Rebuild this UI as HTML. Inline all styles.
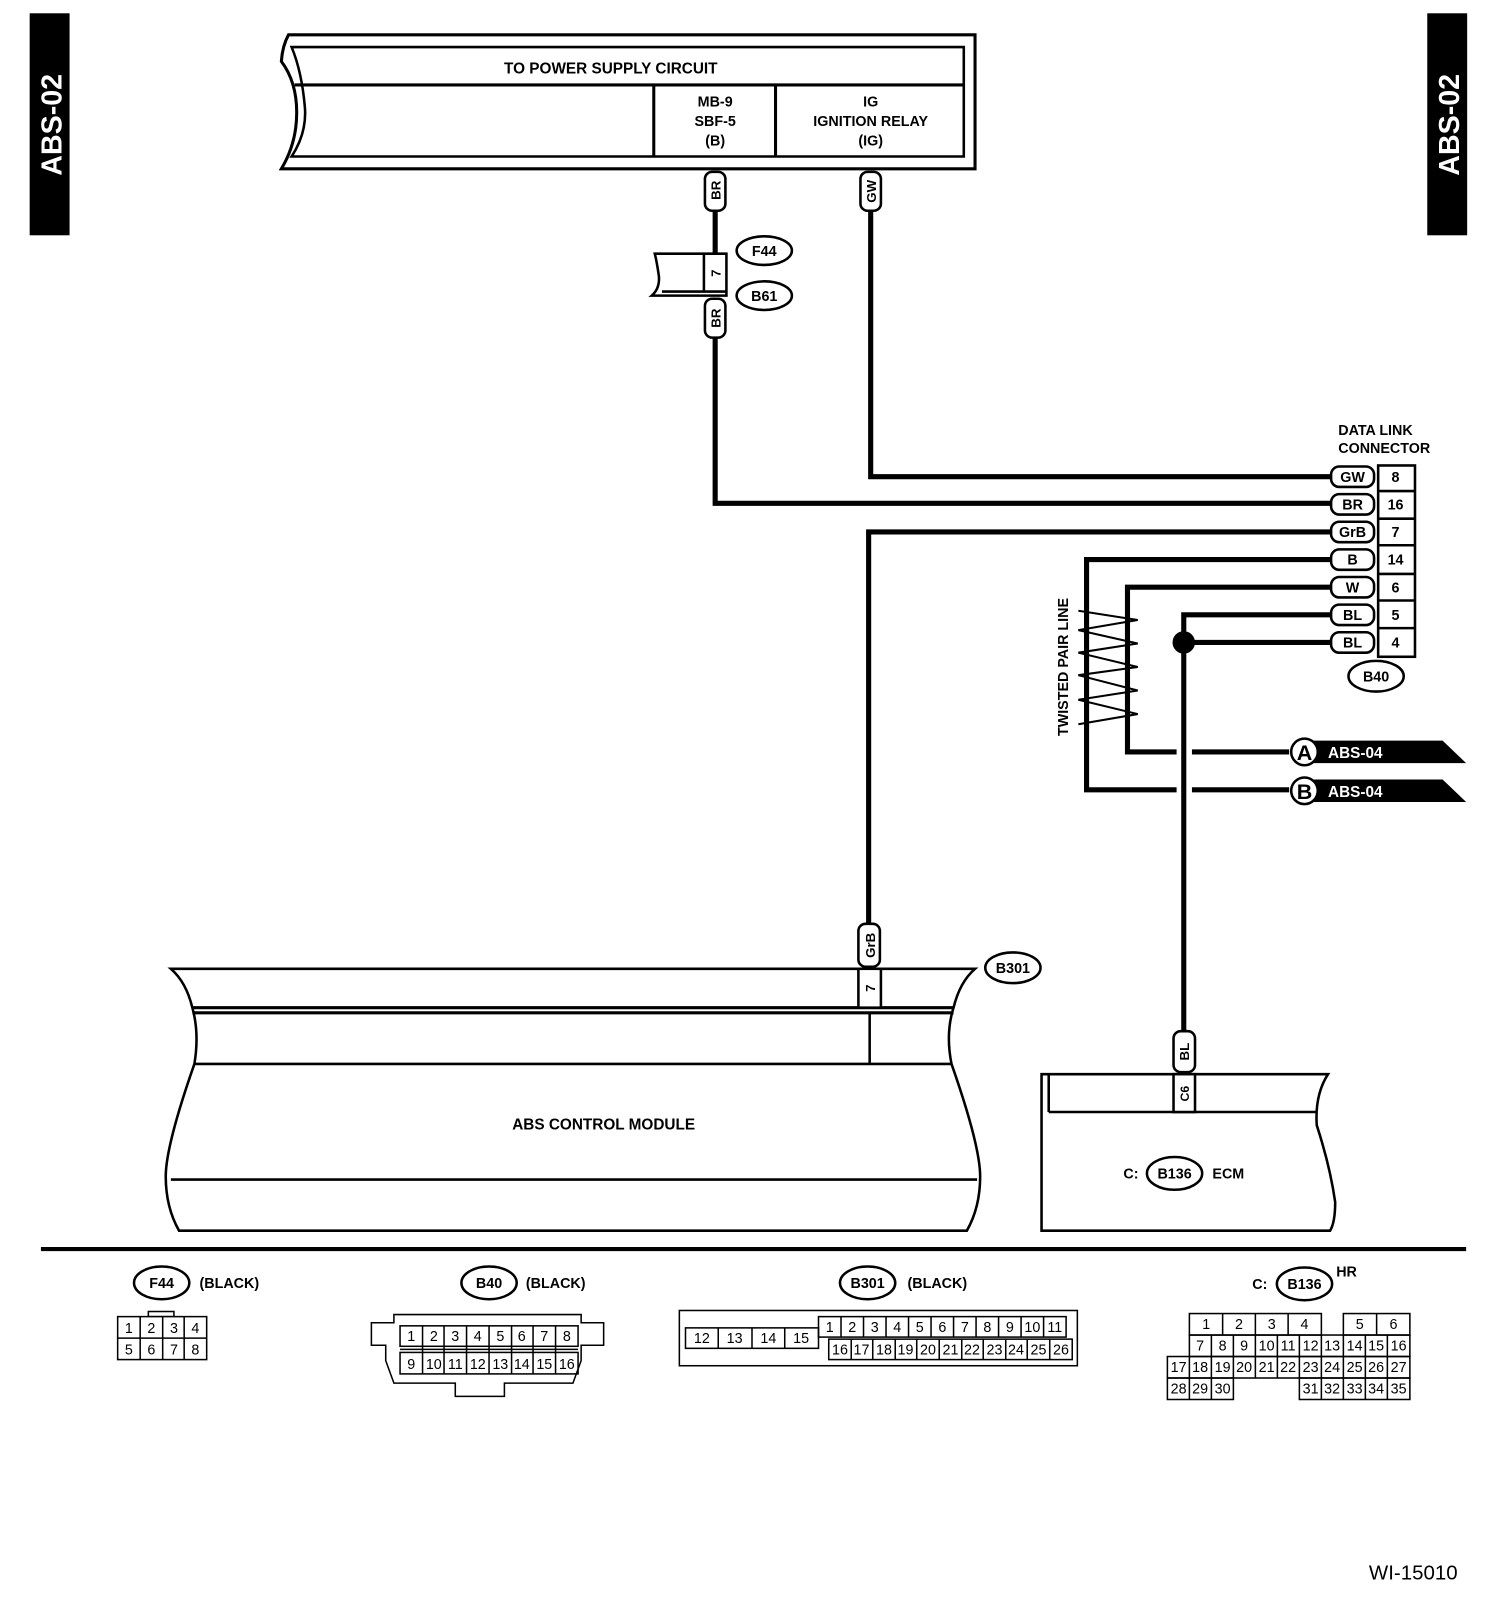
<!DOCTYPE html>
<html><head><meta charset="utf-8"><style>
html,body{margin:0;padding:0;background:#fff;}
svg{display:block;}
text{font-family:"Liberation Sans",Arial,sans-serif;font-weight:bold;fill:#000;}
.n text{font-weight:normal;}
</style></head><body>
<svg width="1504" height="1600" viewBox="0 0 1470 1564" preserveAspectRatio="none" xmlns="http://www.w3.org/2000/svg">
<rect width="1470" height="1564" fill="#fff"/>
<g stroke="#000" fill="none" stroke-width="2">
<rect x="30" y="14" width="37" height="215" fill="#000"/>
<rect x="1396" y="14" width="37" height="215" fill="#000"/>
</g>
<text transform="translate(60,122) rotate(-90)" text-anchor="middle" font-size="28" style="fill:#fff">ABS-02</text>
<text transform="translate(1426,122) rotate(-90)" text-anchor="middle" font-size="28" style="fill:#fff">ABS-02</text>

<g stroke="#000" fill="#fff" stroke-width="3">
<path d="M282,34 L953,34 L953,165 L275,165 Q290,140 290,110 Q290,80 275,60 Q276,45 282,34 Z"/>
<path d="M285,46 L942,46 L942,153 L285,153 Q300,130 298,105 Q295,70 285,46 Z" stroke-width="2.5"/>
<line x1="288" y1="83" x2="942" y2="83"/>
<line x1="639" y1="83" x2="639" y2="153"/>
<line x1="758" y1="83" x2="758" y2="153"/>
</g>
<text x="597" y="72" text-anchor="middle" font-size="15">TO POWER SUPPLY CIRCUIT</text>
<text x="699" y="104" text-anchor="middle" font-size="14">MB-9</text>
<text x="699" y="123" text-anchor="middle" font-size="14">SBF-5</text>
<text x="699" y="142" text-anchor="middle" font-size="14">(B)</text>
<text x="851" y="104" text-anchor="middle" font-size="14">IG</text>
<text x="851" y="123" text-anchor="middle" font-size="14">IGNITION RELAY</text>
<text x="851" y="142" text-anchor="middle" font-size="14">(IG)</text>

<g stroke="#000" fill="none" stroke-width="5">
<polyline points="699,205 699,248"/>
<polyline points="699,330 699,492 1300,492"/>
<polyline points="851,205 851,466 1300,466"/>
<polyline points="849,905 849,520 1300,520"/>
<polyline points="1300,547 1062,547 1062,772 1150,772"/>
<polyline points="1165,772 1260,772"/>
<polyline points="1300,574 1102,574 1102,735 1150,735"/>
<polyline points="1165,735 1260,735"/>
<polyline points="1300,601 1157,601 1157,1010"/>
<polyline points="1157,628 1300,628"/>
</g>
<circle cx="1157" cy="628" r="11" fill="#000"/>
<g stroke="#000" stroke-width="2" fill="none">
<polyline points="1054,597 1112,606 1054,616 1112,629 1054,638 1112,652 1054,660 1112,675 1054,684 1112,698 1054,708"/>
</g>
<text transform="translate(1044,652) rotate(-90)" text-anchor="middle" font-size="14">TWISTED PAIR LINE</text>

<g stroke="#000" stroke-width="2.5" fill="#fff">
<rect x="689" y="168" width="20" height="38" rx="7"/>
<rect x="841" y="168" width="20" height="38" rx="7"/>
<rect x="689" y="292" width="20" height="38" rx="7"/>
<rect x="839" y="903" width="21" height="42" rx="7"/>
<rect x="1147" y="1008" width="21" height="40" rx="7"/>
</g>
<text transform="translate(704,186) rotate(-90)" text-anchor="middle" font-size="13">BR</text>
<text transform="translate(856,187) rotate(-90)" text-anchor="middle" font-size="13">GW</text>
<text transform="translate(704,311) rotate(-90)" text-anchor="middle" font-size="13">BR</text>
<text transform="translate(855,924) rotate(-90)" text-anchor="middle" font-size="13">GrB</text>
<text transform="translate(1162,1028) rotate(-90)" text-anchor="middle" font-size="13">BL</text>

<g stroke="#000" stroke-width="2.5" fill="#fff">
<path d="M640,248 L710,248 L710,289 L637,289 Q645,282 644,270 Q642,256 640,248 Z"/>
<line x1="647" y1="285" x2="710" y2="285"/>
<line x1="688" y1="248" x2="688" y2="285"/>
<ellipse cx="747" cy="245" rx="27" ry="14"/>
<ellipse cx="747" cy="289" rx="27" ry="14"/>
</g>
<text transform="translate(704,267) rotate(-90)" text-anchor="middle" font-size="13">7</text>
<text x="747" y="250" text-anchor="middle" font-size="14">F44</text>
<text x="747" y="294" text-anchor="middle" font-size="14">B61</text>

<text x="1308" y="425" font-size="14">DATA LINK</text>
<text x="1308" y="443" font-size="14">CONNECTOR</text>
<g stroke="#000" stroke-width="2.5" fill="#fff">
<rect x="1347" y="455" width="36" height="187"/>
<line x1="1347" y1="480" x2="1383" y2="480"/><line x1="1347" y1="507" x2="1383" y2="507"/>
<line x1="1347" y1="533" x2="1383" y2="533"/><line x1="1347" y1="561" x2="1383" y2="561"/>
<line x1="1347" y1="587" x2="1383" y2="587"/><line x1="1347" y1="614" x2="1383" y2="614"/>
<rect x="1301" y="456" width="42" height="20" rx="8"/>
<rect x="1301" y="483" width="42" height="20" rx="8"/>
<rect x="1301" y="510" width="42" height="20" rx="8"/>
<rect x="1301" y="537" width="42" height="20" rx="8"/>
<rect x="1301" y="564" width="42" height="20" rx="8"/>
<rect x="1301" y="591" width="42" height="20" rx="8"/>
<rect x="1301" y="618" width="42" height="20" rx="8"/>
<ellipse cx="1345" cy="661" rx="27" ry="15"/>
</g>
<g font-size="14" text-anchor="middle">
<text x="1322" y="471">GW</text><text x="1364" y="471">8</text>
<text x="1322" y="498">BR</text><text x="1364" y="498">16</text>
<text x="1322" y="525">GrB</text><text x="1364" y="525">7</text>
<text x="1322" y="552">B</text><text x="1364" y="552">14</text>
<text x="1322" y="579">W</text><text x="1364" y="579">6</text>
<text x="1322" y="606">BL</text><text x="1364" y="606">5</text>
<text x="1322" y="633">BL</text><text x="1364" y="633">4</text>
<text x="1345" y="666">B40</text>
</g>

<polygon points="1280,724 1410,724 1433,746 1280,746" fill="#000"/>
<polygon points="1280,762 1410,762 1433,784 1280,784" fill="#000"/>
<circle cx="1275" cy="735" r="13" fill="#fff" stroke="#000" stroke-width="2.5"/>
<circle cx="1275" cy="773" r="13" fill="#fff" stroke="#000" stroke-width="2.5"/>
<text x="1275" y="743" text-anchor="middle" font-size="21">A</text>
<text x="1275" y="781" text-anchor="middle" font-size="21">B</text>
<text x="1298" y="741" font-size="15" style="fill:#fff">ABS-04</text>
<text x="1298" y="779" font-size="15" style="fill:#fff">ABS-04</text>

<g stroke="#000" stroke-width="2.5" fill="none">
<path d="M167,947 L953,947 Q938,960 932,985 Q924,1010 930,1040 Q958,1120 958,1150 Q958,1180 945,1203 L175,1203 Q162,1180 162,1150 Q162,1120 190,1040 Q195,1010 188,985 Q182,960 167,947 Z" fill="#fff"/>
<line x1="188" y1="985" x2="932" y2="985" stroke-width="3"/>
<line x1="188" y1="990" x2="932" y2="990" stroke-width="3"/>
<line x1="190" y1="1040" x2="930" y2="1040"/>
<line x1="167" y1="1153" x2="955" y2="1153"/>
<line x1="850" y1="990" x2="850" y2="1040"/>
<rect x="839" y="947" width="22" height="38" fill="#fff"/>
<ellipse cx="990" cy="946" rx="27" ry="15" fill="#fff"/>
</g>
<text transform="translate(855,966) rotate(-90)" text-anchor="middle" font-size="13">7</text>
<text x="990" y="951" text-anchor="middle" font-size="14">B301</text>
<text x="590" y="1104" text-anchor="middle" font-size="15">ABS CONTROL MODULE</text>

<g stroke="#000" stroke-width="2.5" fill="#fff">
<path d="M1018,1050 L1298,1050 Q1285,1070 1287,1100 Q1300,1140 1305,1175 Q1305,1195 1300,1203 L1018,1203 Z"/>
<line x1="1025" y1="1050" x2="1025" y2="1087" fill="none"/>
<line x1="1025" y1="1087" x2="1287" y2="1087"/>
<rect x="1147" y="1050" width="21" height="37"/>
<ellipse cx="1148" cy="1147" rx="27" ry="16"/>
</g>
<text transform="translate(1162,1069) rotate(-90)" text-anchor="middle" font-size="12">C6</text>
<text x="1098" y="1152" font-size="14">C:</text>
<text x="1148" y="1152" text-anchor="middle" font-size="14">B136</text>
<text x="1185" y="1152" font-size="14">ECM</text>

<line x1="40" y1="1221" x2="1433" y2="1221" stroke="#000" stroke-width="4"/>

<g stroke="#000" stroke-width="2.5" fill="#fff">
<ellipse cx="158" cy="1254" rx="27" ry="16"/>
<ellipse cx="478" cy="1254" rx="27" ry="16"/>
<ellipse cx="848" cy="1254" rx="27" ry="16"/>
<ellipse cx="1275" cy="1255" rx="27" ry="16"/>
</g>
<g font-size="14">
<text x="158" y="1259" text-anchor="middle">F44</text><text x="195" y="1259">(BLACK)</text>
<text x="478" y="1259" text-anchor="middle">B40</text><text x="514" y="1259">(BLACK)</text>
<text x="848" y="1259" text-anchor="middle">B301</text><text x="887" y="1259">(BLACK)</text>
<text x="1275" y="1260" text-anchor="middle">B136</text><text x="1224" y="1260">C:</text><text x="1306" y="1248">HR</text>
</g>
<text x="1338" y="1544" font-size="20" style="font-weight:normal">WI-15010</text>

<g stroke="#000" stroke-width="1.5" fill="none">
<rect x="145" y="1282" width="25" height="5"/>
<rect x="115" y="1287" width="87" height="42" fill="#fff"/>
<line x1="115" y1="1308" x2="202" y2="1308"/>
<line x1="137" y1="1287" x2="137" y2="1329"/><line x1="159" y1="1287" x2="159" y2="1329"/><line x1="180" y1="1287" x2="180" y2="1329"/>
</g>
<g class="n" font-size="14" text-anchor="middle">
<text x="126" y="1303">1</text><text x="148" y="1303">2</text><text x="170" y="1303">3</text><text x="191" y="1303">4</text>
<text x="126" y="1324">5</text><text x="148" y="1324">6</text><text x="170" y="1324">7</text><text x="191" y="1324">8</text>
</g>

<g stroke="#000" stroke-width="1.5" fill="none">
<path d="M385,1285 L568,1285 L568,1293 L590,1293 L590,1315 L568,1315 L568,1330 L560,1352 L493,1352 L493,1365 L445,1365 L445,1352 L385,1352 L377,1330 L377,1315 L363,1315 L363,1293 L385,1293 Z"/>
<rect x="391" y="1296" width="174" height="20"/>
<rect x="391" y="1322" width="174" height="21"/>
<line x1="391" y1="1319" x2="565" y2="1319"/>
</g>
<g stroke="#000" stroke-width="1.5">
<line x1="413" y1="1296" x2="413" y2="1343"/><line x1="434" y1="1296" x2="434" y2="1343"/><line x1="456" y1="1296" x2="456" y2="1343"/><line x1="478" y1="1296" x2="478" y2="1343"/><line x1="500" y1="1296" x2="500" y2="1343"/><line x1="521" y1="1296" x2="521" y2="1343"/><line x1="543" y1="1296" x2="543" y2="1343"/>
</g>
<g class="n" font-size="14" text-anchor="middle">
<text x="402" y="1311">1</text><text x="424" y="1311">2</text><text x="445" y="1311">3</text><text x="467" y="1311">4</text><text x="489" y="1311">5</text><text x="510" y="1311">6</text><text x="532" y="1311">7</text><text x="554" y="1311">8</text>
<text x="402" y="1338">9</text><text x="424" y="1338">10</text><text x="445" y="1338">11</text><text x="467" y="1338">12</text><text x="489" y="1338">13</text><text x="510" y="1338">14</text><text x="532" y="1338">15</text><text x="554" y="1338">16</text>
</g>

<g stroke="#000" stroke-width="1.5" fill="none">
<rect x="664" y="1281" width="389" height="54"/>
<rect x="670" y="1298" width="130" height="20"/>
<line x1="702" y1="1298" x2="702" y2="1318"/><line x1="735" y1="1298" x2="735" y2="1318"/><line x1="767" y1="1298" x2="767" y2="1318"/>
<rect x="800" y="1287" width="242" height="20"/>
<rect x="810" y="1309" width="238" height="20"/>
</g>
<g stroke="#000" stroke-width="1.5">
<line x1="822" y1="1287" x2="822" y2="1307"/><line x1="844" y1="1287" x2="844" y2="1307"/><line x1="866" y1="1287" x2="866" y2="1307"/><line x1="888" y1="1287" x2="888" y2="1307"/><line x1="910" y1="1287" x2="910" y2="1307"/><line x1="932" y1="1287" x2="932" y2="1307"/><line x1="954" y1="1287" x2="954" y2="1307"/><line x1="976" y1="1287" x2="976" y2="1307"/><line x1="998" y1="1287" x2="998" y2="1307"/><line x1="1020" y1="1287" x2="1020" y2="1307"/>
<line x1="832" y1="1309" x2="832" y2="1329"/><line x1="853" y1="1309" x2="853" y2="1329"/><line x1="875" y1="1309" x2="875" y2="1329"/><line x1="896" y1="1309" x2="896" y2="1329"/><line x1="918" y1="1309" x2="918" y2="1329"/><line x1="940" y1="1309" x2="940" y2="1329"/><line x1="961" y1="1309" x2="961" y2="1329"/><line x1="983" y1="1309" x2="983" y2="1329"/><line x1="1004" y1="1309" x2="1004" y2="1329"/><line x1="1026" y1="1309" x2="1026" y2="1329"/>
</g>
<g class="n" font-size="14" text-anchor="middle">
<text x="686" y="1313">12</text><text x="718" y="1313">13</text><text x="751" y="1313">14</text><text x="783" y="1313">15</text>
<text x="811" y="1302">1</text><text x="833" y="1302">2</text><text x="855" y="1302">3</text><text x="877" y="1302">4</text><text x="899" y="1302">5</text><text x="921" y="1302">6</text><text x="943" y="1302">7</text><text x="965" y="1302">8</text><text x="987" y="1302">9</text><text x="1009" y="1302">10</text><text x="1031" y="1302">11</text>
<text x="821" y="1324">16</text><text x="842" y="1324">17</text><text x="864" y="1324">18</text><text x="885" y="1324">19</text><text x="907" y="1324">20</text><text x="929" y="1324">21</text><text x="950" y="1324">22</text><text x="972" y="1324">23</text><text x="993" y="1324">24</text><text x="1015" y="1324">25</text><text x="1037" y="1324">26</text>
</g>

<g stroke="#000" stroke-width="1.5" fill="none">
<rect x="1162.5" y="1284" width="129" height="21"/>
<line x1="1195" y1="1284" x2="1195" y2="1305"/><line x1="1227" y1="1284" x2="1227" y2="1305"/><line x1="1259" y1="1284" x2="1259" y2="1305"/>
<rect x="1313" y="1284" width="65" height="21"/>
<line x1="1345.5" y1="1284" x2="1345.5" y2="1305"/>
<rect x="1162.5" y="1305" width="215.5" height="21"/>
<rect x="1141" y="1326" width="237" height="21"/>
<rect x="1141" y="1347" width="64.5" height="21"/>
<rect x="1270" y="1347" width="108" height="21"/>
</g>
<g stroke="#000" stroke-width="1.5">
<line x1="1184" y1="1305" x2="1184" y2="1326"/><line x1="1205.5" y1="1305" x2="1205.5" y2="1326"/><line x1="1227" y1="1305" x2="1227" y2="1326"/><line x1="1248.5" y1="1305" x2="1248.5" y2="1326"/><line x1="1270" y1="1305" x2="1270" y2="1326"/><line x1="1291.5" y1="1305" x2="1291.5" y2="1326"/><line x1="1313" y1="1305" x2="1313" y2="1326"/><line x1="1334.5" y1="1305" x2="1334.5" y2="1326"/><line x1="1356" y1="1305" x2="1356" y2="1326"/>
<line x1="1162.5" y1="1326" x2="1162.5" y2="1368"/><line x1="1184" y1="1326" x2="1184" y2="1368"/><line x1="1205.5" y1="1326" x2="1205.5" y2="1347"/><line x1="1227" y1="1326" x2="1227" y2="1347"/><line x1="1248.5" y1="1326" x2="1248.5" y2="1347"/><line x1="1270" y1="1326" x2="1270" y2="1347"/><line x1="1291.5" y1="1326" x2="1291.5" y2="1368"/><line x1="1313" y1="1326" x2="1313" y2="1368"/><line x1="1334.5" y1="1326" x2="1334.5" y2="1368"/><line x1="1356" y1="1326" x2="1356" y2="1368"/>
</g>
<g class="n" font-size="14" text-anchor="middle">
<text x="1179" y="1299">1</text><text x="1211" y="1299">2</text><text x="1243" y="1299">3</text><text x="1275" y="1299">4</text><text x="1329" y="1299">5</text><text x="1362" y="1299">6</text>
<text x="1173" y="1320">7</text><text x="1195" y="1320">8</text><text x="1216" y="1320">9</text><text x="1238" y="1320">10</text><text x="1259" y="1320">11</text><text x="1281" y="1320">12</text><text x="1302" y="1320">13</text><text x="1324" y="1320">14</text><text x="1345" y="1320">15</text><text x="1367" y="1320">16</text>
<text x="1152" y="1341">17</text><text x="1173" y="1341">18</text><text x="1195" y="1341">19</text><text x="1216" y="1341">20</text><text x="1238" y="1341">21</text><text x="1259" y="1341">22</text><text x="1281" y="1341">23</text><text x="1302" y="1341">24</text><text x="1324" y="1341">25</text><text x="1345" y="1341">26</text><text x="1367" y="1341">27</text>
<text x="1152" y="1362">28</text><text x="1173" y="1362">29</text><text x="1195" y="1362">30</text>
<text x="1281" y="1362">31</text><text x="1302" y="1362">32</text><text x="1324" y="1362">33</text><text x="1345" y="1362">34</text><text x="1367" y="1362">35</text>
</g>
</svg>
</body></html>
